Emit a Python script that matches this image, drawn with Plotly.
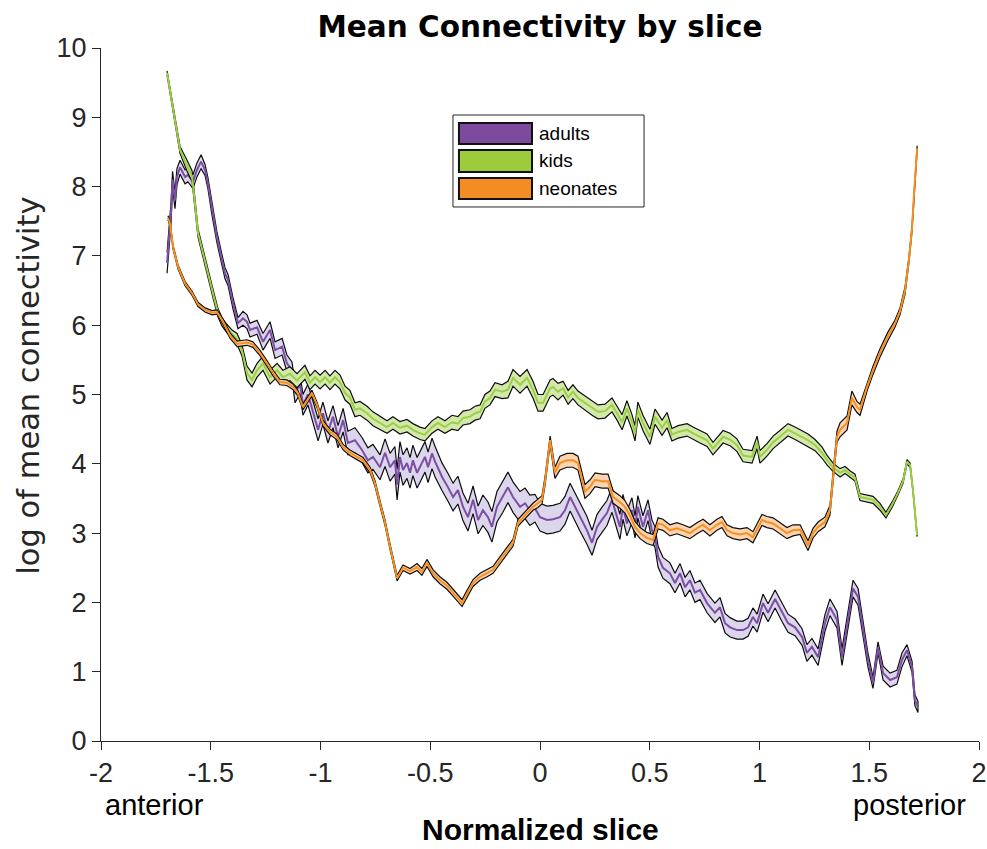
import plotly.graph_objects as go

# ---------------- data ----------------
adults_x = [
    -1.699, -1.681, -1.674, -1.663, -1.654, -1.640, -1.617, -1.604, -1.581, -1.563,
    -1.544, -1.526, -1.513, -1.494, -1.472, -1.449, -1.435, -1.421, -1.399, -1.376,
    -1.353, -1.335, -1.321, -1.289, -1.262, -1.230, -1.207, -1.175, -1.153, -1.130,
    -1.116, -1.093, -1.080, -1.057, -1.034, -1.011, -0.989, -0.966, -0.943, -0.920,
    -0.897, -0.875, -0.843, -0.811, -0.784, -0.761, -0.729, -0.706, -0.683, -0.661,
    -0.651, -0.638, -0.624, -0.606, -0.592, -0.579, -0.560, -0.547, -0.524, -0.510,
    -0.492, -0.478, -0.446, -0.419, -0.396, -0.374, -0.351, -0.328, -0.305, -0.282,
    -0.260, -0.237, -0.219, -0.196, -0.169, -0.146, -0.123, -0.091, -0.068, -0.046,
    -0.023, 0.000, 0.032, 0.059, 0.091, 0.114, 0.137, 0.159, 0.182, 0.214,
    0.237, 0.260, 0.282, 0.305, 0.328, 0.342, 0.364, 0.378, 0.396, 0.419,
    0.433, 0.446, 0.469, 0.492, 0.510, 0.524, 0.538, 0.560, 0.592, 0.615,
    0.638, 0.661, 0.683, 0.706, 0.729, 0.761, 0.797, 0.820, 0.843, 0.866,
    0.897, 0.925, 0.948, 0.970, 0.989, 1.016, 1.039, 1.071, 1.103, 1.130,
    1.162, 1.194, 1.216, 1.239, 1.267, 1.298, 1.321, 1.353, 1.376, 1.403,
    1.426, 1.449, 1.472, 1.494, 1.517, 1.540, 1.563, 1.595, 1.626, 1.649,
    1.672, 1.695, 1.708, 1.722,
]
adults_y = [
    6.90, 7.62, 8.10, 7.80, 8.14, 8.28, 8.14, 8.17, 8.07, 8.24,
    8.36, 8.24, 8.05, 7.66, 7.27, 6.94, 6.75, 6.65, 6.32, 6.03,
    6.10, 6.05, 5.93, 5.97, 5.76, 5.93, 5.64, 5.69, 5.45, 5.35,
    5.02, 5.15, 4.85, 5.00, 4.73, 4.49, 4.73, 4.46, 4.68, 4.39,
    4.63, 4.30, 4.34, 4.20, 4.05, 4.10, 3.95, 4.16, 3.95, 4.05,
    3.70, 4.10, 3.91, 4.01, 3.87, 4.05, 3.87, 3.95, 4.10, 3.95,
    4.15, 4.03, 3.81, 3.66, 3.52, 3.62, 3.38, 3.23, 3.48, 3.19,
    3.33, 3.23, 3.09, 3.38, 3.52, 3.66, 3.52, 3.38, 3.43, 3.33,
    3.36, 3.23, 3.19, 3.20, 3.23, 3.33, 3.52, 3.38, 3.23, 3.04,
    2.86, 3.09, 3.19, 3.29, 3.48, 3.33, 3.09, 3.38, 3.14, 3.33,
    3.09, 3.38, 3.09, 3.33, 3.04, 2.94, 2.66, 2.50, 2.42, 2.28,
    2.42, 2.22, 2.32, 2.14, 2.18, 1.99, 1.85, 1.93, 1.70, 1.64,
    1.60, 1.60, 1.64, 1.79, 1.70, 1.99, 1.85, 2.05, 1.85, 1.70,
    1.64, 1.50, 1.27, 1.36, 1.21, 1.70, 1.93, 1.75, 1.21, 1.75,
    2.20, 2.08, 1.60, 1.17, 0.84, 1.35, 0.98, 0.88, 0.92, 1.17,
    1.31, 1.07, 0.59, 0.49,
]
adults_err = [
    0.15, 0.15, 0.12, 0.12, 0.12, 0.10, 0.10, 0.10, 0.10, 0.10,
    0.10, 0.08, 0.08, 0.08, 0.08, 0.08, 0.08, 0.08, 0.08, 0.08,
    0.10, 0.10, 0.10, 0.10, 0.12, 0.12, 0.12, 0.12, 0.12, 0.12,
    0.14, 0.14, 0.15, 0.15, 0.15, 0.16, 0.16, 0.16, 0.16, 0.16,
    0.17, 0.17, 0.18, 0.18, 0.18, 0.18, 0.18, 0.20, 0.20, 0.20,
    0.22, 0.22, 0.22, 0.22, 0.22, 0.22, 0.22, 0.22, 0.22, 0.22,
    0.22, 0.22, 0.20, 0.20, 0.20, 0.20, 0.20, 0.20, 0.20, 0.20,
    0.22, 0.22, 0.22, 0.22, 0.22, 0.22, 0.22, 0.22, 0.22, 0.22,
    0.20, 0.20, 0.20, 0.20, 0.20, 0.20, 0.20, 0.20, 0.20, 0.20,
    0.18, 0.18, 0.18, 0.18, 0.18, 0.18, 0.18, 0.18, 0.18, 0.18,
    0.16, 0.16, 0.16, 0.15, 0.15, 0.15, 0.15, 0.15, 0.15, 0.14,
    0.14, 0.14, 0.14, 0.14, 0.14, 0.14, 0.14, 0.14, 0.14, 0.14,
    0.13, 0.13, 0.13, 0.13, 0.13, 0.13, 0.13, 0.13, 0.13, 0.13,
    0.12, 0.12, 0.12, 0.12, 0.12, 0.12, 0.12, 0.12, 0.12, 0.12,
    0.12, 0.12, 0.10, 0.10, 0.08, 0.08, 0.10, 0.10, 0.10, 0.10,
    0.08, 0.08, 0.08, 0.08,
]

kids_x = [
    -1.699, -1.681, -1.663, -1.640, -1.608, -1.585, -1.558, -1.526, -1.490, -1.467,
    -1.449, -1.426, -1.403, -1.380, -1.358, -1.335, -1.312, -1.289, -1.262, -1.230,
    -1.198, -1.171, -1.139, -1.107, -1.093, -1.071, -1.048, -1.025, -1.002, -0.979,
    -0.957, -0.934, -0.911, -0.888, -0.866, -0.843, -0.820, -0.788, -0.761, -0.729,
    -0.697, -0.670, -0.638, -0.606, -0.579, -0.547, -0.524, -0.492, -0.465, -0.433,
    -0.401, -0.374, -0.351, -0.319, -0.296, -0.273, -0.251, -0.228, -0.205, -0.173,
    -0.146, -0.123, -0.091, -0.059, -0.032, -0.009, 0.014, 0.046, 0.059, 0.082,
    0.105, 0.128, 0.150, 0.173, 0.205, 0.237, 0.264, 0.296, 0.328, 0.351,
    0.374, 0.396, 0.419, 0.433, 0.446, 0.469, 0.501, 0.524, 0.556, 0.579,
    0.601, 0.629, 0.670, 0.697, 0.729, 0.761, 0.788, 0.834, 0.866, 0.897,
    0.925, 0.966, 0.989, 1.002, 1.034, 1.062, 1.093, 1.130, 1.162, 1.194,
    1.221, 1.253, 1.285, 1.308, 1.335, 1.367, 1.390, 1.412, 1.435, 1.458,
    1.490, 1.517, 1.549, 1.576, 1.604, 1.631, 1.654, 1.672, 1.686, 1.699,
    1.718,
]
kids_y = [
    9.64, 9.30, 8.96, 8.53, 8.30, 8.15, 7.33, 6.90, 6.46, 6.18,
    6.05, 5.95, 5.87, 5.80, 5.64, 5.31, 5.21, 5.35, 5.45, 5.25,
    5.35, 5.25, 5.30, 5.20, 5.25, 5.32, 5.17, 5.25, 5.18, 5.25,
    5.17, 5.25, 5.18, 5.02, 4.96, 4.78, 4.80, 4.73, 4.65, 4.59,
    4.53, 4.59, 4.52, 4.55, 4.49, 4.44, 4.42, 4.53, 4.59, 4.53,
    4.60, 4.58, 4.66, 4.68, 4.73, 4.75, 4.90, 4.95, 5.07, 5.04,
    5.07, 5.24, 5.14, 5.24, 5.07, 4.88, 4.88, 5.09, 5.11, 5.04,
    5.09, 4.96, 5.04, 4.95, 4.88, 4.80, 4.75, 4.76, 4.85, 4.73,
    4.60, 4.80, 4.60, 4.44, 4.78, 4.59, 4.39, 4.68, 4.52, 4.63,
    4.42, 4.46, 4.49, 4.44, 4.39, 4.34, 4.22, 4.39, 4.35, 4.27,
    4.12, 4.10, 4.31, 4.10, 4.20, 4.31, 4.39, 4.49, 4.44, 4.39,
    4.34, 4.27, 4.16, 4.05, 3.95, 3.87, 3.91, 3.85, 3.80, 3.52,
    3.50, 3.48, 3.38, 3.26, 3.41, 3.58, 3.75, 4.03, 3.98, 3.62,
    2.97,
]
kids_err = [
    0.03, 0.03, 0.03, 0.05, 0.08, 0.08, 0.06, 0.06, 0.06, 0.06,
    0.06, 0.06, 0.06, 0.08, 0.08, 0.10, 0.10, 0.10, 0.10, 0.10,
    0.10, 0.10, 0.10, 0.10, 0.10, 0.10, 0.10, 0.10, 0.10, 0.10,
    0.10, 0.10, 0.10, 0.10, 0.10, 0.10, 0.10, 0.10, 0.10, 0.10,
    0.09, 0.09, 0.09, 0.09, 0.09, 0.09, 0.09, 0.09, 0.09, 0.09,
    0.10, 0.10, 0.10, 0.10, 0.10, 0.10, 0.10, 0.10, 0.10, 0.10,
    0.12, 0.12, 0.12, 0.12, 0.12, 0.12, 0.12, 0.12, 0.12, 0.12,
    0.10, 0.10, 0.10, 0.10, 0.10, 0.10, 0.10, 0.10, 0.10, 0.10,
    0.11, 0.11, 0.11, 0.11, 0.11, 0.11, 0.11, 0.11, 0.11, 0.11,
    0.09, 0.09, 0.09, 0.09, 0.09, 0.09, 0.09, 0.09, 0.09, 0.09,
    0.09, 0.09, 0.09, 0.09, 0.09, 0.09, 0.09, 0.09, 0.09, 0.09,
    0.09, 0.08, 0.08, 0.07, 0.06, 0.06, 0.05, 0.05, 0.05, 0.05,
    0.05, 0.05, 0.05, 0.04, 0.04, 0.03, 0.03, 0.03, 0.03, 0.02,
    0.02,
]

neonates_x = [
    -1.695, -1.686, -1.672, -1.649, -1.617, -1.585, -1.558, -1.526, -1.494, -1.472,
    -1.444, -1.412, -1.380, -1.335, -1.308, -1.276, -1.244, -1.216, -1.185, -1.153,
    -1.125, -1.103, -1.080, -1.039, -1.016, -0.989, -0.957, -0.925, -0.897, -0.866,
    -0.834, -0.806, -0.774, -0.752, -0.729, -0.706, -0.683, -0.651, -0.624, -0.592,
    -0.560, -0.538, -0.515, -0.487, -0.456, -0.424, -0.396, -0.355, -0.333, -0.305,
    -0.273, -0.241, -0.214, -0.182, -0.146, -0.123, -0.100, -0.077, -0.055, -0.032,
    -0.009, 0.009, 0.023, 0.046, 0.068, 0.091, 0.123, 0.150, 0.173, 0.205,
    0.228, 0.251, 0.282, 0.310, 0.333, 0.364, 0.387, 0.410, 0.433, 0.456,
    0.487, 0.515, 0.538, 0.560, 0.592, 0.624, 0.651, 0.683, 0.715, 0.743,
    0.774, 0.806, 0.829, 0.852, 0.879, 0.911, 0.943, 0.970, 1.011, 1.034,
    1.062, 1.093, 1.125, 1.153, 1.185, 1.221, 1.244, 1.267, 1.298, 1.321,
    1.335, 1.353, 1.367, 1.399, 1.421, 1.444, 1.458, 1.490, 1.517, 1.549,
    1.585, 1.617, 1.640, 1.663, 1.681, 1.695, 1.704, 1.713, 1.718,
]
neonates_y = [
    7.55, 7.47, 7.13, 6.84, 6.60, 6.46, 6.30, 6.22, 6.18, 6.19,
    6.05, 5.85, 5.73, 5.75, 5.72, 5.60, 5.45, 5.31, 5.18, 5.17,
    5.11, 5.02, 4.82, 5.02, 4.85, 4.59, 4.46, 4.39, 4.24, 4.16,
    4.10, 4.05, 3.91, 3.72, 3.43, 3.15, 2.80, 2.35, 2.50, 2.45,
    2.51, 2.44, 2.57, 2.42, 2.32, 2.24, 2.14, 1.99, 2.12, 2.28,
    2.37, 2.42, 2.47, 2.61, 2.76, 2.86, 3.15, 3.23, 3.30, 3.38,
    3.43, 3.48, 3.75, 4.34, 3.87, 4.01, 4.05, 4.05, 4.01, 3.60,
    3.67, 3.77, 3.75, 3.75, 3.52, 3.45, 3.38, 3.25, 3.09, 3.00,
    2.93, 2.90, 3.14, 3.12, 3.04, 3.07, 3.04, 3.00, 3.07, 3.12,
    3.04, 3.12, 3.16, 3.04, 3.00, 2.98, 3.00, 2.94, 3.19, 3.16,
    3.14, 3.07, 3.00, 3.04, 3.05, 2.82, 3.00, 3.09, 3.16, 3.33,
    3.81, 4.39, 4.49, 4.59, 4.95, 4.82, 4.78, 5.11, 5.35, 5.60,
    5.84, 6.02, 6.20, 6.50, 6.95, 7.40, 7.90, 8.30, 8.55,
]
neonates_err = [
    0.03, 0.03, 0.03, 0.03, 0.03, 0.03, 0.03, 0.03, 0.03, 0.03,
    0.04, 0.04, 0.04, 0.04, 0.04, 0.04, 0.04, 0.04, 0.04, 0.04,
    0.04, 0.04, 0.04, 0.04, 0.04, 0.04, 0.04, 0.04, 0.04, 0.04,
    0.04, 0.04, 0.04, 0.04, 0.04, 0.04, 0.04, 0.04, 0.04, 0.04,
    0.05, 0.05, 0.05, 0.05, 0.05, 0.05, 0.05, 0.05, 0.05, 0.05,
    0.05, 0.05, 0.05, 0.05, 0.05, 0.05, 0.05, 0.05, 0.05, 0.05,
    0.06, 0.06, 0.06, 0.06, 0.08, 0.10, 0.10, 0.10, 0.10, 0.10,
    0.10, 0.10, 0.10, 0.10, 0.09, 0.09, 0.09, 0.09, 0.08, 0.08,
    0.08, 0.08, 0.08, 0.08, 0.08, 0.08, 0.08, 0.08, 0.08, 0.08,
    0.08, 0.08, 0.08, 0.08, 0.08, 0.08, 0.08, 0.08, 0.08, 0.08,
    0.08, 0.08, 0.08, 0.08, 0.07, 0.07, 0.07, 0.07, 0.07, 0.07,
    0.07, 0.08, 0.10, 0.10, 0.10, 0.08, 0.08, 0.06, 0.06, 0.06,
    0.06, 0.05, 0.05, 0.05, 0.04, 0.04, 0.04, 0.04, 0.04,
]

group_names = ["adults", "kids", "neonates"]
x_ticks = [-2, -1.5, -1, -0.5, 0, 0.5, 1, 1.5, 2]
x_tick_text = ["-2", "-1.5", "-1", "-0.5", "0", "0.5", "1", "1.5", "2"]
y_ticks = [0, 1, 2, 3, 4, 5, 6, 7, 8, 9, 10]
y_tick_text = ["0", "1", "2", "3", "4", "5", "6", "7", "8", "9", "10"]

# ---------------- styles ----------------
line_colors = ["#7b4fa3", "#9ccf45", "#f7901e"]
band_colors = ["#dcd6ec", "#d2e9ab", "#fdd4b2"]
legend_colors = ["#7d4b9d", "#9ccb3b", "#f28c23"]
AX = "#262626"
TICK_FONT = "Liberation Sans, Arial, sans-serif"

series = [
    (adults_x, adults_y, adults_err),
    (kids_x, kids_y, kids_err),
    (neonates_x, neonates_y, neonates_err),
]

fig = go.Figure()
for (xs, ys, es), name, lc, bc in zip(series, group_names, line_colors, band_colors):
    upper = [y + e for y, e in zip(ys, es)]
    lower = [y - e for y, e in zip(ys, es)]
    fig.add_trace(go.Scatter(
        x=list(xs) + list(xs)[::-1],
        y=upper + lower[::-1],
        fill="toself", fillcolor=bc,
        line=dict(color="#0d0d0d", width=1.2),
        mode="lines", hoverinfo="skip", showlegend=False, name=name + " band",
    ))
    fig.add_trace(go.Scatter(
        x=xs, y=ys, mode="lines", name=name,
        line=dict(color=lc, width=2), showlegend=False,
    ))

# manual MATLAB-style legend
lx0, lx1 = 0.4009, 0.6185
ly0, ly1 = 0.7706, 0.9033
fig.add_shape(type="rect", xref="paper", yref="paper", x0=lx0, x1=lx1, y0=ly0, y1=ly1,
              line=dict(color=AX, width=1), fillcolor="white", layer="above")
rows = [(0.8615, 0.8918), (0.8211, 0.8528), (0.7821, 0.8124)]
for (r0, r1), name, c in zip(rows, group_names, legend_colors):
    fig.add_shape(type="rect", xref="paper", yref="paper", x0=0.4077, x1=0.4909, y0=r0, y1=r1,
                  line=dict(color="#111111", width=2), fillcolor=c, layer="above")
    fig.add_annotation(xref="paper", yref="paper", x=0.4966, y=(r0 + r1) / 2,
                       text=name, showarrow=False, xanchor="left", yanchor="middle",
                       font=dict(family="Liberation Sans, Arial, sans-serif", size=19, color="black"))

# extra axis annotations
fig.add_annotation(xref="x", yref="paper", x=-2, y=-0.092, text="anterior", showarrow=False,
                   xanchor="left", yanchor="middle", xshift=2,
                   font=dict(family="Liberation Sans, Arial, sans-serif", size=29, color="black"))
fig.add_annotation(xref="x", yref="paper", x=2, y=-0.092, text="posterior", showarrow=False,
                   xanchor="right", yanchor="middle", xshift=-11,
                   font=dict(family="Liberation Sans, Arial, sans-serif", size=29, color="black"))
fig.add_annotation(xref="paper", yref="paper", x=0.5, y=-0.1284, text="<b>Normalized slice</b>",
                   showarrow=False, xanchor="center", yanchor="middle",
                   font=dict(family="Liberation Sans, Arial, sans-serif", size=30, color="black"))
fig.add_annotation(xref="paper", yref="paper", x=-0.083, y=0.513, text="log of mean connectivity",
                   showarrow=False, xanchor="center", yanchor="middle", textangle=-90,
                   font=dict(family="DejaVu Sans, sans-serif", size=30.5, color=AX))

fig.update_layout(
    width=987, height=849,
    margin=dict(l=101, r=8, t=48, b=108, autoexpand=False),
    paper_bgcolor="white", plot_bgcolor="white",
    showlegend=False,
    title=dict(text="<b>Mean Connectivity by slice</b>", x=0.5, xref="paper",
               y=1 - 27 / 849, yref="container", yanchor="middle", xanchor="center",
               font=dict(family="DejaVu Sans, sans-serif", size=29.5, color="black")),
    xaxis=dict(range=[-2, 2], tickvals=x_ticks, ticktext=x_tick_text,
               showgrid=False, zeroline=False, showline=True, linecolor=AX, linewidth=1,
               ticks="outside", ticklen=8, tickcolor=AX, tickwidth=1,
               automargin=False, ticklabeloverflow="allow",
               tickfont=dict(family=TICK_FONT, size=27, color=AX)),
    yaxis=dict(range=[0, 10], tickvals=y_ticks, ticktext=y_tick_text,
               showgrid=False, zeroline=False, showline=True, linecolor=AX, linewidth=1,
               ticks="outside", ticklen=8, tickcolor=AX, tickwidth=1,
               automargin=False,
               tickfont=dict(family=TICK_FONT, size=27, color=AX)),
)

fig.write_html("out.html")
